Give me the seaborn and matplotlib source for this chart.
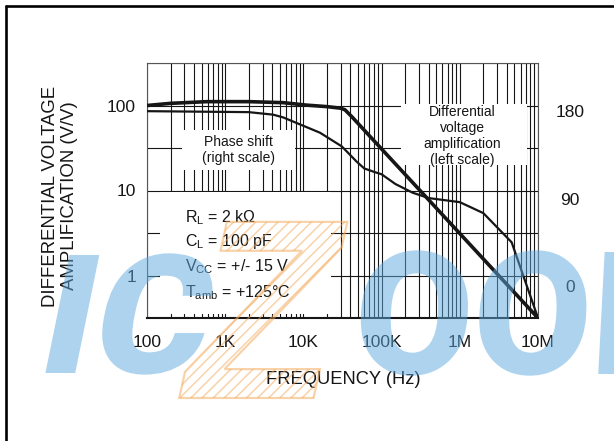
import matplotlib
matplotlib.use("Agg")
import matplotlib.pyplot as plt
import matplotlib.transforms as mtransforms
from matplotlib.font_manager import FontProperties
from matplotlib.lines import Line2D
from matplotlib.patches import PathPatch, Rectangle
from matplotlib.textpath import TextPath
from matplotlib.ticker import FixedLocator, NullFormatter
import pandas as pd
import seaborn as sns

# ---- data -------------------------------------------------------------
gain_freq = [100, 200, 580, 2e3, 5.5e3, 1.1e4, 2e4, 3e4, 3.4e4, 4.15e4, 1e5, 1e6, 1e7]
gain_vv = [100, 106, 111, 111, 108, 101, 97, 93, 89, 74, 30.8, 3.12, 0.316]

phase_freq = [100, 2e3, 4.1e3, 5.5e3, 8.2e3, 1.63e4, 3.1e4, 4.8e4, 6e4, 8e4, 1e5,
              1.5e5, 2.5e5, 4e5, 1e6, 2e6, 4.6e6, 1e7]
phase_deg = [180, 179, 176.4, 173.6, 167.8, 157.8, 143.7, 128, 121, 117.5, 115,
             105, 96, 90.5, 86.3, 75, 45, -33]

x_ticks = [100, 1e3, 1e4, 1e5, 1e6, 1e7]
x_tick_labels = ["100", "1K", "10K", "100K", "1M", "10M"]
y_ticks = [1, 10, 100]
y_tick_labels = ["1", "10", "100"]
phase_ticks = [0, 90, 180]
phase_tick_labels = ["0", "90", "180"]

conditions = [r"R$_{\mathregular{L}}$ = 2 k" + "\u03a9",
              r"C$_{\mathregular{L}}$ = 100 pF",
              r"V$_{\mathregular{CC}}$ = +/- 15 V",
              r"T$_{\mathregular{amb}}$ = +125°C"]

gain_df = pd.DataFrame({"freq": gain_freq, "gain": gain_vv})
phase_df = pd.DataFrame({"freq": phase_freq, "phase": phase_deg})

# ---- style ------------------------------------------------------------
sns.set_theme(style="white")
plt.rcParams["font.family"] = ["Liberation Sans", "DejaVu Sans"]
plt.rcParams["mathtext.fontset"] = "custom"
plt.rcParams["mathtext.rm"] = "Liberation Sans"
plt.rcParams["mathtext.it"] = "Liberation Sans:italic"
plt.rcParams["mathtext.bf"] = "Liberation Sans:bold"
plt.rcParams["hatch.linewidth"] = 1.1

W, H = 614, 441
fig = plt.figure(figsize=(W / 100, H / 100), dpi=100)
fig.patch.set_facecolor("white")

L, R, T, B = 147, 538, 63, 318
ax = fig.add_axes([L / W, 1 - B / H, (R - L) / W, (B - T) / H])
ax.set_facecolor("white")
ax.set_xscale("log")
ax.set_yscale("log")
ax.set_xlim(100, 1e7)
ax.set_ylim(10 ** -0.5, 10 ** 2.5)

ink = "#161616"

# grid: full log grid on x, half-decade lines on y
ax.xaxis.set_major_locator(FixedLocator(x_ticks))
ax.xaxis.set_minor_locator(FixedLocator(
    [m * 10 ** e for e in range(2, 7) for m in range(2, 10)]))
ax.yaxis.set_major_locator(FixedLocator(y_ticks))
ax.yaxis.set_minor_locator(FixedLocator([10 ** -0.5, 10 ** 0.5, 10 ** 1.5, 10 ** 2.5]))
ax.set_xticks(x_ticks, x_tick_labels)
ax.set_yticks(y_ticks, y_tick_labels)
ax.xaxis.set_minor_formatter(NullFormatter())
ax.yaxis.set_minor_formatter(NullFormatter())
ax.set_axisbelow(True)
ax.grid(True, which="both", color=ink, lw=0.8)
ax.tick_params(axis="x", which="both", length=0, pad=12.5, labelsize=12.5, labelcolor=ink)
ax.tick_params(axis="y", which="both", length=0, pad=8, labelsize=12.5, labelcolor=ink)
for side in ("top", "left", "right"):
    ax.spines[side].set_color("#555555")
    ax.spines[side].set_linewidth(0.8)
ax.spines["bottom"].set_color(ink)
ax.spines["bottom"].set_linewidth(1.5)

# white panels behind the annotations
def panel(x0, y0, x1, y1):
    ax.add_patch(Rectangle(((x0 - L) / (R - L), (B - y1) / (B - T)),
                           (x1 - x0) / (R - L), (y1 - y0) / (B - T),
                           transform=ax.transAxes, facecolor="white",
                           edgecolor="none", zorder=1))

panel(182, 130, 295, 170)
panel(401, 104, 527, 165)
panel(160, 192, 331, 314)

# gain curve (left scale)
sns.lineplot(data=gain_df, x="freq", y="gain", ax=ax, color=ink, lw=2.6,
             zorder=3, legend=False)
ax.set_xlabel("")
ax.set_ylabel("")

# phase curve (right scale)
ax2 = ax.twinx()
ax2.set_yscale("linear")
ax2.set_ylim(-33.0, 229.6)
sns.lineplot(data=phase_df, x="freq", y="phase", ax=ax2, color=ink, lw=1.6,
             zorder=3, legend=False)
ax2.set_xlim(100, 1e7)
ax2.set_xlabel("")
ax2.set_ylabel("")
ax2.set_yticks(phase_ticks, phase_tick_labels)
ax2.tick_params(axis="y", length=0, pad=23, labelsize=12.5, labelcolor=ink)
for t in ax2.get_yticklabels():
    t.set_horizontalalignment("center")
ax2.grid(False)
for s in ax2.spines.values():
    s.set_visible(False)

# annotations
def ax_pt(x, y):
    return (x - L) / (R - L), (B - y) / (B - T)

ax.text(*ax_pt(238, 150), "Phase shift\n(right scale)", transform=ax.transAxes,
        ha="center", va="center", fontsize=10, linespacing=1.2, color=ink, zorder=4)
ax.text(*ax_pt(462, 136), "Differential\nvoltage\namplification\n(left scale)",
        transform=ax.transAxes, ha="center", va="center", fontsize=10,
        linespacing=1.2, color=ink, zorder=4)
for line, yb in zip(conditions, [222, 246, 271, 297]):
    ax.text(*ax_pt(185, yb), line, transform=ax.transAxes, ha="left",
            va="baseline", fontsize=11.5, color=ink, zorder=4)

fig.text(343 / W, 1 - 380 / H, "FREQUENCY (Hz)", ha="center", va="center",
         fontsize=13.2, color=ink)
fig.text(60 / W, 1 - 196 / H, "DIFFERENTIAL VOLTAGE\nAMPLIFICATION (V/V)",
         rotation=90, ha="center", va="center", fontsize=13.4,
         linespacing=1.1, color=ink)

# page frame
fig.add_artist(Line2D([6 / W, 6 / W], [0, 1 - 6 / H], transform=fig.transFigure,
                      color="black", lw=1.9))
fig.add_artist(Line2D([6 / W, 1], [1 - 6 / H, 1 - 6 / H], transform=fig.transFigure,
                      color="black", lw=1.9))

# logo overlay
heavy_font = FontProperties(family=["Roboto", "DejaVu Sans"], weight=900)
bold_font = FontProperties(family="Liberation Sans", weight="bold")

def logo(text, x0, baseline, cap_px, skew, prop, xstretch=1.0, **kw):
    path = TextPath((0, 0), text, size=1, prop=prop)
    scale = cap_px / 0.711
    tr = (mtransforms.Affine2D().skew_deg(skew, 0)
          .scale(scale * xstretch, scale).translate(x0, H - baseline))
    fig.add_artist(PathPatch(path, transform=tr, **kw))

logo("IC", 34, 373, 118, 11, heavy_font, 1.05, facecolor="#5ea9de",
     edgecolor="none", alpha=0.5, zorder=10)
logo("OOM", 352, 374, 122, 3, heavy_font, 1.0, facecolor="#5ea9de",
     edgecolor="none", alpha=0.5, zorder=10)
logo("Z", 172, 398, 182, 13, bold_font, 0.95, facecolor="none",
     edgecolor="#f3a654", lw=1.6, hatch="///", alpha=0.5, zorder=11)

fig.savefig("out.png", dpi=100, facecolor="white")
